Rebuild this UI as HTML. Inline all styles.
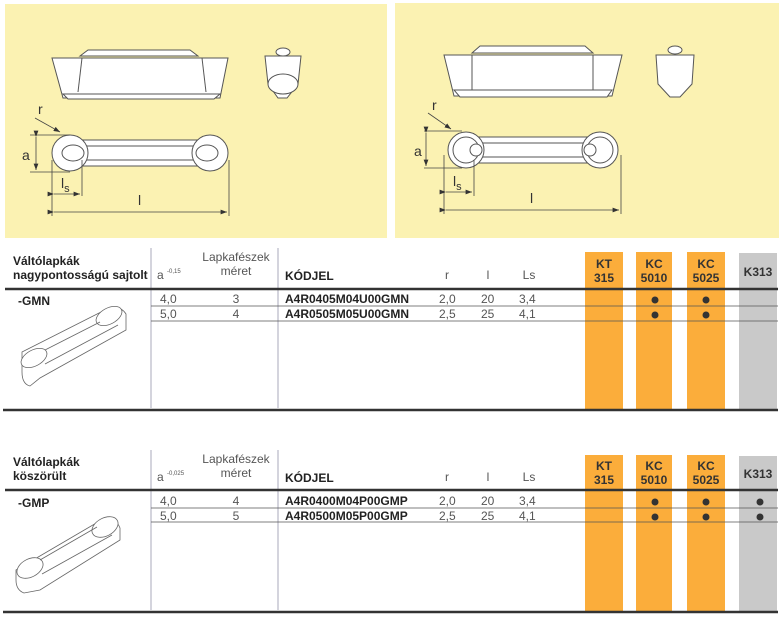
<!DOCTYPE html>
<html><head><meta charset="utf-8"><style>
html,body{margin:0;padding:0;background:#fff;width:783px;height:637px;overflow:hidden}
svg{display:block;font-family:"Liberation Sans",sans-serif}
</style></head><body>
<svg width="783" height="637" viewBox="0 0 783 637" xmlns="http://www.w3.org/2000/svg">
<defs>
<marker id="ar" markerWidth="8" markerHeight="6" refX="8" refY="3" orient="auto"><path d="M0,0 L8,3 L0,6 z" fill="#333"/></marker>
</defs>
<!-- yellow panels -->
<rect x="5" y="4" width="382" height="234" fill="#fbf2b2"/>
<rect x="395" y="3" width="384" height="235" fill="#fbf2b2"/>

<!-- Left drawing -->
<g fill="#fff" stroke="#555" stroke-width="1">
<path d="M52,58 L228,58 L220,98 L63,98 z"/>
<path d="M80,56 L88,50 L190,50 L198,56 z"/>
<line x1="82" y1="58" x2="78" y2="92"/><line x1="202" y1="58" x2="206" y2="92"/>
<path d="M63,94 L220,94 L214,99 L68,99z"/>
<path d="M265,56 L301,56 L298,84 L287,98 L278,98 L268,84z"/>
<ellipse cx="283" cy="84" rx="15" ry="10"/>
<ellipse cx="283" cy="52" rx="7" ry="4"/>
<rect x="80" y="140" width="120" height="26" rx="2"/>
<line x1="80" y1="146" x2="200" y2="146"/><line x1="80" y1="160" x2="200" y2="160"/>
<circle cx="70" cy="153" r="18"/><circle cx="210" cy="153" r="18"/>
<ellipse cx="73" cy="153" rx="11" ry="8"/><ellipse cx="207" cy="153" rx="11" ry="8"/>
</g>
<g stroke="#444" fill="none" stroke-width="0.8">
<line x1="35" y1="118" x2="60" y2="132" marker-end="url(#ar)"/>
<line x1="30" y1="135" x2="70" y2="135"/><line x1="30" y1="172" x2="70" y2="172"/>
<line x1="36" y1="137" x2="36" y2="170" marker-start="url(#ar)" marker-end="url(#ar)"/>
<line x1="52" y1="160" x2="52" y2="216"/><line x1="82" y1="160" x2="82" y2="196"/><line x1="229" y1="160" x2="229" y2="216"/>
<line x1="54" y1="194" x2="80" y2="194" marker-start="url(#ar)" marker-end="url(#ar)"/>
<line x1="54" y1="212" x2="227" y2="212" marker-start="url(#ar)" marker-end="url(#ar)"/>
</g>
<g font-size="14" fill="#333"><text x="38" y="114">r</text><text x="22" y="160">a</text><text x="61" y="188">l<tspan font-size="11" dy="4">s</tspan></text><text x="138" y="205">l</text></g>

<!-- Right drawing -->
<g fill="#fff" stroke="#555" stroke-width="1">
<path d="M444,55 L622,55 L612,96 L454,96 z"/>
<path d="M472,53 L480,46 L585,46 L593,53 z"/>
<line x1="472" y1="55" x2="472" y2="90"/><line x1="593" y1="55" x2="593" y2="90"/>
<path d="M454,90 L612,90 L607,97 L460,97z"/>
<path d="M656,55 L694,55 L692,84 L680,97 L670,97 L658,84z"/>
<ellipse cx="675" cy="50" rx="7" ry="4"/>
<rect x="472" y="137" width="122" height="26" rx="2"/>
<line x1="472" y1="143" x2="594" y2="143"/><line x1="472" y1="157" x2="594" y2="157"/>
<circle cx="466" cy="150" r="18"/><circle cx="600" cy="150" r="18"/>
<circle cx="466" cy="150" r="13"/><circle cx="600" cy="150" r="13"/>
<circle cx="476" cy="150" r="6"/><circle cx="590" cy="150" r="6"/>
</g>
<g stroke="#444" fill="none" stroke-width="0.8">
<line x1="428" y1="113" x2="451" y2="129" marker-end="url(#ar)"/>
<line x1="424" y1="131" x2="462" y2="131"/><line x1="424" y1="168" x2="462" y2="168"/>
<line x1="426" y1="133" x2="426" y2="166" marker-start="url(#ar)" marker-end="url(#ar)"/>
<line x1="444" y1="155" x2="444" y2="214"/><line x1="474" y1="160" x2="474" y2="196"/><line x1="621" y1="155" x2="621" y2="214"/>
<line x1="446" y1="192" x2="472" y2="192" marker-start="url(#ar)" marker-end="url(#ar)"/>
<line x1="446" y1="210" x2="619" y2="210" marker-start="url(#ar)" marker-end="url(#ar)"/>
</g>
<g font-size="14" fill="#333"><text x="432" y="110">r</text><text x="414" y="156">a</text><text x="453" y="186">l<tspan font-size="11" dy="4">s</tspan></text><text x="530" y="203">l</text></g>

<!-- Table 1 -->
<g>
<rect x="585" y="252" width="38" height="158" fill="#fbad3b"/>
<rect x="636" y="252" width="36" height="158" fill="#fbad3b"/>
<rect x="687" y="252" width="38" height="158" fill="#fbad3b"/>
<rect x="739" y="253" width="38" height="157" fill="#c9c9c9"/>
<line x1="151" y1="248" x2="151" y2="408" stroke="#aab" stroke-width="1"/>
<line x1="278" y1="248" x2="278" y2="408" stroke="#aab" stroke-width="1"/>
<line x1="5" y1="289" x2="778" y2="289" stroke="#333" stroke-width="2.5"/>
<line x1="151" y1="306" x2="778" y2="306" stroke="#555" stroke-width="0.8"/>
<line x1="151" y1="321" x2="778" y2="321" stroke="#555" stroke-width="0.8"/>
<line x1="3" y1="410" x2="778" y2="410" stroke="#333" stroke-width="2.5"/>
<g font-size="12" fill="#222">
<text x="13" y="265" font-weight="bold">Váltólapkák</text>
<text x="13" y="279" font-weight="bold">nagypontosságú sajtolt</text>
<text x="157" y="279" fill="#555">a <tspan font-size="6" dy="-6">-0,15</tspan></text>
<text x="236" y="261" fill="#555" text-anchor="middle">Lapkafészek</text>
<text x="236" y="275" fill="#555" text-anchor="middle">méret</text>
<text x="285" y="280" font-weight="bold">KÓDJEL</text>
<text x="447" y="279" fill="#555" text-anchor="middle">r</text>
<text x="488" y="279" fill="#555" text-anchor="middle">l</text>
<text x="529" y="279" fill="#555" text-anchor="middle">Ls</text>
<g font-weight="bold" text-anchor="middle" fill="#333">
<text x="604" y="268">KT</text><text x="604" y="282">315</text>
<text x="654" y="268">KC</text><text x="654" y="282">5010</text>
<text x="706" y="268">KC</text><text x="706" y="282">5025</text>
<text x="758" y="276">K313</text></g>
<text x="18" y="305" font-weight="bold">-GMN</text>
<g fill="#555"><text x="160" y="303">4,0</text><text x="160" y="318">5,0</text>
<text x="236" y="303" text-anchor="middle">3</text><text x="236" y="318" text-anchor="middle">4</text>
<text x="439" y="303">2,0</text><text x="439" y="318">2,5</text>
<text x="481" y="303">20</text><text x="481" y="318">25</text>
<text x="519" y="303">3,4</text><text x="519" y="318">4,1</text></g>
<text x="285" y="303" font-weight="bold">A4R0405M04U00GMN</text>
<text x="285" y="318" font-weight="bold">A4R0505M05U00GMN</text>
</g>
<g fill="#333"><circle cx="655" cy="300" r="3.5"/><circle cx="706" cy="300" r="3.5"/><circle cx="655" cy="315" r="3.5"/><circle cx="706" cy="315" r="3.5"/></g>
<g fill="#fff" stroke="#666" stroke-width="0.8">
<path d="M22,352 L105,310 Q120,304 126,314 L126,330 L40,378 L30,386 Q22,384 22,372z"/>
<ellipse cx="34" cy="358" rx="14" ry="8" transform="rotate(-28 34 358)"/>
<ellipse cx="109" cy="316" rx="14" ry="8" transform="rotate(-28 109 316)"/>
<line x1="45" y1="350" x2="100" y2="322"/><line x1="45" y1="364" x2="118" y2="325"/>
</g>
</g>

<!-- Table 2 -->
<g>
<rect x="585" y="455" width="38" height="157" fill="#fbad3b"/>
<rect x="636" y="455" width="36" height="157" fill="#fbad3b"/>
<rect x="687" y="455" width="38" height="157" fill="#fbad3b"/>
<rect x="739" y="456" width="38" height="156" fill="#c9c9c9"/>
<line x1="151" y1="450" x2="151" y2="610" stroke="#aab" stroke-width="1"/>
<line x1="278" y1="450" x2="278" y2="610" stroke="#aab" stroke-width="1"/>
<line x1="5" y1="490" x2="778" y2="490" stroke="#333" stroke-width="2.5"/>
<line x1="151" y1="508" x2="778" y2="508" stroke="#555" stroke-width="0.8"/>
<line x1="151" y1="522" x2="778" y2="522" stroke="#555" stroke-width="0.8"/>
<line x1="3" y1="612" x2="778" y2="612" stroke="#333" stroke-width="2.5"/>
<g font-size="12" fill="#222">
<text x="13" y="466" font-weight="bold">Váltólapkák</text>
<text x="13" y="480" font-weight="bold">köszörült</text>
<text x="157" y="481" fill="#555">a <tspan font-size="6" dy="-6">-0,025</tspan></text>
<text x="236" y="463" fill="#555" text-anchor="middle">Lapkafészek</text>
<text x="236" y="477" fill="#555" text-anchor="middle">méret</text>
<text x="285" y="482" font-weight="bold">KÓDJEL</text>
<text x="447" y="481" fill="#555" text-anchor="middle">r</text>
<text x="488" y="481" fill="#555" text-anchor="middle">l</text>
<text x="529" y="481" fill="#555" text-anchor="middle">Ls</text>
<g font-weight="bold" text-anchor="middle" fill="#333">
<text x="604" y="470">KT</text><text x="604" y="484">315</text>
<text x="654" y="470">KC</text><text x="654" y="484">5010</text>
<text x="706" y="470">KC</text><text x="706" y="484">5025</text>
<text x="758" y="478">K313</text></g>
<text x="18" y="507" font-weight="bold">-GMP</text>
<g fill="#555"><text x="160" y="505">4,0</text><text x="160" y="520">5,0</text>
<text x="236" y="505" text-anchor="middle">4</text><text x="236" y="520" text-anchor="middle">5</text>
<text x="439" y="505">2,0</text><text x="439" y="520">2,5</text>
<text x="481" y="505">20</text><text x="481" y="520">25</text>
<text x="519" y="505">3,4</text><text x="519" y="520">4,1</text></g>
<text x="285" y="505" font-weight="bold">A4R0400M04P00GMP</text>
<text x="285" y="520" font-weight="bold">A4R0500M05P00GMP</text>
</g>
<g fill="#333"><circle cx="655" cy="502" r="3.5"/><circle cx="706" cy="502" r="3.5"/><circle cx="760" cy="502" r="3.5"/><circle cx="655" cy="517" r="3.5"/><circle cx="706" cy="517" r="3.5"/><circle cx="760" cy="517" r="3.5"/></g>
<g fill="#fff" stroke="#666" stroke-width="0.8">
<path d="M16,570 L98,522 Q115,515 120,528 L120,540 L40,590 L24,593 Q16,590 16,580z"/>
<ellipse cx="30" cy="568" rx="14" ry="9" transform="rotate(-28 30 568)"/>
<ellipse cx="105" cy="527" rx="14" ry="9" transform="rotate(-28 105 527)"/>
<line x1="40" y1="560" x2="97" y2="527"/><line x1="42" y1="574" x2="112" y2="535"/>
</g>
</g>
</svg>
</body></html>
